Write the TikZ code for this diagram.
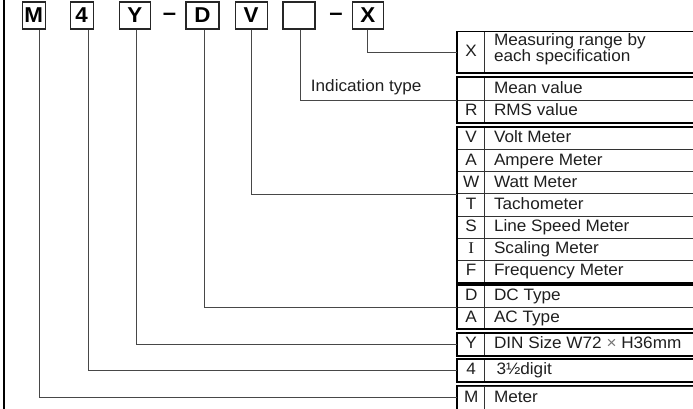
\documentclass[tikz,border=0pt]{standalone}
\usepackage{fontspec}
\setmainfont{Liberation Sans}[FakeStretch=1.04]
\newfontfamily\serifI{Liberation Serif}[FakeStretch=1.04]
\newcommand\tabtxt{\fontsize{16.5}{14}\selectfont}
\tikzset{
  topbox/.style={draw=black!85, line width=1.3, inner sep=0, minimum height=27, font=\fontsize{21.5}{22}\selectfont\bfseries},
  dashtxt/.style={inner sep=0, font=\fontsize{23}{24}\selectfont\bfseries},
  conn/.style={draw=black!72, line width=0.9},
  cell/.style={draw=black!80, line width=0.8, inner sep=0},
  codecell/.style={cell, minimum width=27, text height=11.8, text depth=0, font=\tabtxt, text=black!85},
  desc/.style={anchor=west, inner sep=0, text height=11.8, text depth=0, font=\tabtxt, text=black!88},
  outer/.style={draw=black, line width=1.7},
}
\newcommand\mrow[5]{%
  \node[codecell, minimum height=#3, anchor=north west] (#1) at (457.3,#2) {};
  \node[cell, minimum width=260, minimum height=#3, anchor=north west] (#1t) at (484.3,#2) {};
  \node[desc, anchor=center, yshift=1.5pt] (#1c) at (#1.center) {#4};
  \node[desc, xshift=9.5, yshift=1.5pt] (#1d) at (#1t.west) {#5};
}
\begin{document}
\begin{tikzpicture}[x=1pt,y=-1pt]
\useasboundingbox (0,0) rectangle (693,409);
\clip (0,0) rectangle (693,409);

% frame line
\draw[line width=2.2] (3.6,0) -- (3.6,409);

% top code boxes
\node[topbox, minimum width=23] (bM) at (33.8,15.5) {M};
\node[topbox, minimum width=23] (b4) at (81.7,15.5) {4};
\node[topbox, minimum width=31.5] (bY) at (134.9,15.5) {Y};
\node[dashtxt] (d1) at (169.5,17) {–};
\node[topbox, minimum width=33] (bD) at (202.4,15.5) {D};
\node[topbox, minimum width=32] (bV) at (251.2,15.5) {V};
\node[topbox, minimum width=32] (bE) at (298.9,15.5) {};
\node[dashtxt] (d2) at (336,17) {–};
\node[topbox, minimum width=31] (bX) at (367.8,15.5) {X};

\path (bM.south) ++(5.5,0) coordinate (cM);
\path (b4.south) ++(6.6,0) coordinate (c4);
\path (bY.south) ++(1.8,0) coordinate (cY);
\path (bD.south) ++(1.6,0) coordinate (cD);
\path (bV.south) ++(0.5,0) coordinate (cV);
\path (bE.south) ++(1.1,0) coordinate (cE);
\path (bX.south) ++(0,0) coordinate (cX);

% tables
\mrow{rX}{31.5}{40.5}{X}{}
\node[anchor=base west, align=left, inner sep=0, font=\tabtxt, text=black!88] (rXd) at (493.8,61.5) {Measuring range by\\each specification};
\draw[outer] (rX.north west) rectangle (rXt.south east);

\mrow{rMean}{77}{23}{}{Mean value}
\mrow{rR}{100}{22}{R}{RMS value}
\draw[outer] (rMean.north west) rectangle (rRt.south east);

\mrow{rV}{127}{22.14}{V}{Volt Meter}
\mrow{rA}{149.14}{22.14}{A}{Ampere Meter}
\mrow{rW}{171.28}{22.14}{W}{Watt Meter}
\mrow{rT}{193.42}{22.14}{T}{Tachometer}
\mrow{rS}{215.56}{22.14}{S}{Line Speed Meter}
\mrow{rI}{237.7}{22.14}{{\serifI I}}{Scaling Meter}
\mrow{rF}{259.84}{22.14}{F}{Frequency Meter}
\draw[outer] (rV.north west) rectangle (rFt.south east);

\mrow{rD}{285}{21.5}{D}{DC Type}
\mrow{rAC}{306.5}{22}{A}{AC Type}
\draw[outer] (rD.north west) rectangle (rACt.south east);

\mrow{rY}{333}{22}{Y}{DIN Size W72 {\color{black!55}×} H36mm}
\draw[outer] (rY.north west) rectangle (rYt.south east);

\mrow{r4}{359}{22}{4}{\hspace{2.5pt}3½digit}
\draw[outer] (r4.north west) rectangle (r4t.south east);

\mrow{rM}{385.5}{24}{M}{Meter}
\draw[outer] (rM.north west) rectangle (rMt.south east);

% indication label
\node[anchor=base west, inner sep=0, font=\tabtxt, text=black!88] (ind) at (310.7,92) {Indication type};

% connectors
\draw[conn] (cM) |- (rM.west);
\draw[conn] (c4) |- (r4.west);
\draw[conn] (cY) |- (rY.west);
\draw[conn] (cD) |- (rD.south west);
\draw[conn] (cV) |- (rW.south west);
\draw[conn] (cE) |- (rMean.south west);
\draw[conn] (cX) |- (rX.west);
\end{tikzpicture}
\end{document}
